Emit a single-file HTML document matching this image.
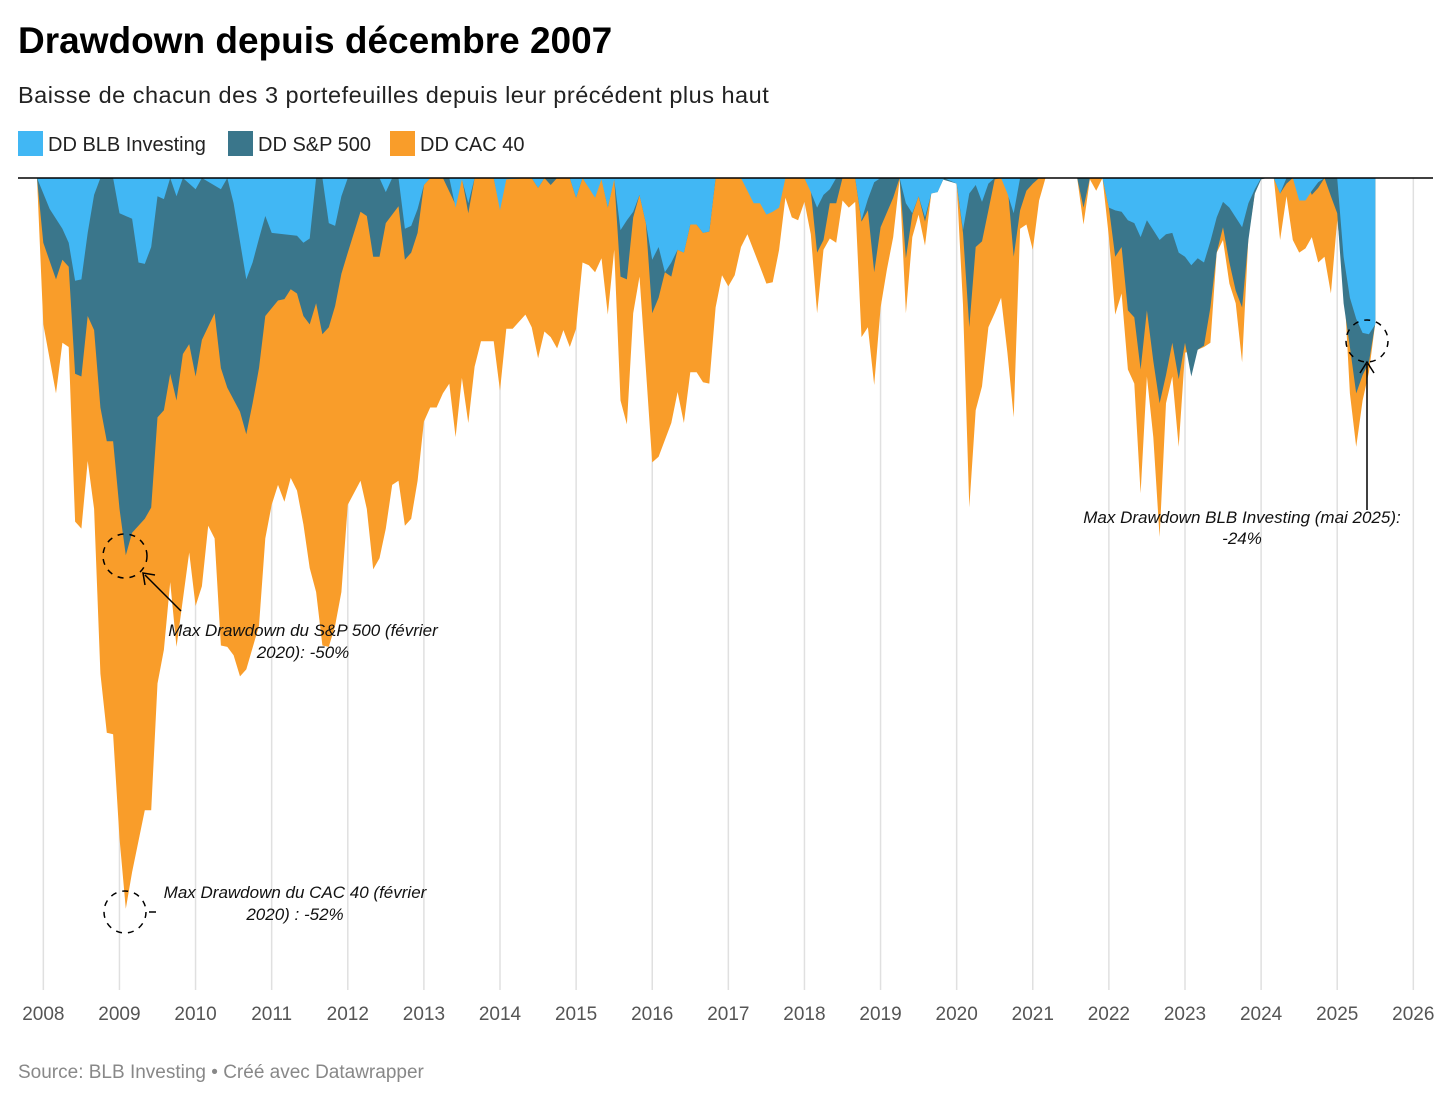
<!DOCTYPE html>
<html><head><meta charset="utf-8">
<style>
body{margin:0;background:#fff;font-family:"Liberation Sans",sans-serif;}
#wrap{position:relative;width:1456px;height:1101px;overflow:hidden;}
</style></head>
<body>
<div id="wrap">
<svg id="chart" width="1456" height="1101">
<text x="18" y="53" font-size="37" font-weight="bold" fill="#000">Drawdown depuis décembre 2007</text>
<text x="18" y="103" font-size="23.5" letter-spacing="0.5" fill="#222">Baisse de chacun des 3 portefeuilles depuis leur précédent plus haut</text>
<g>
<rect x="18" y="131" width="25" height="25" fill="#41b7f4"/>
<text x="48" y="151" font-size="20" fill="#222">DD BLB Investing</text>
<rect x="228" y="131" width="25" height="25" fill="#3a768b"/>
<text x="258" y="151" font-size="20" fill="#222">DD S&amp;P 500</text>
<rect x="390" y="131" width="25" height="25" fill="#f99d2a"/>
<text x="420" y="151" font-size="20" fill="#222">DD CAC 40</text>
</g>
<g id="grid"></g>
<g id="areas"></g>
<line x1="18" y1="178" x2="1433" y2="178" stroke="#000" stroke-width="1.5"/>
<g id="xaxis"></g>
<g id="annot" font-size="17" font-style="italic" fill="#111" text-anchor="middle">
<circle cx="125" cy="556" r="22" fill="none" stroke="#000" stroke-width="1.5" stroke-dasharray="6,6"/>
<line x1="181" y1="611" x2="145" y2="575" stroke="#000" stroke-width="1.5"/>
<polyline points="145,585 143,573 155,575" fill="none" stroke="#000" stroke-width="1.5"/>
<text x="303" y="636">Max Drawdown du S&amp;P 500 (février</text>
<text x="303" y="658">2020): -50%</text>
<circle cx="125" cy="912" r="21" fill="none" stroke="#000" stroke-width="1.5" stroke-dasharray="6,6"/>
<line x1="149" y1="912" x2="156" y2="912" stroke="#000" stroke-width="1.5"/>
<text x="295" y="898">Max Drawdown du CAC 40 (février</text>
<text x="295" y="920">2020) : -52%</text>
<circle cx="1367" cy="341" r="21" fill="none" stroke="#000" stroke-width="1.5" stroke-dasharray="6,6"/>
<line x1="1367" y1="510" x2="1367" y2="364" stroke="#000" stroke-width="1.5"/>
<polyline points="1360,373 1367,362 1374,373" fill="none" stroke="#000" stroke-width="1.5"/>
<text x="1242" y="523">Max Drawdown BLB Investing (mai 2025):</text>
<text x="1242" y="544">-24%</text>
</g>
<text x="18" y="1078" font-size="19" fill="#888">Source: BLB Investing • Créé avec Datawrapper</text>
</svg>
</div>
<script>
// months since Dec 2007, drawdown in %
const yearTicks = [2008,2009,2010,2011,2012,2013,2014,2015,2016,2017,2018,2019,2020,2021,2022,2023,2024,2025,2026];
const cacMonths = [0,1,3,4,5,6,7,8,9,10,11,12,13,14,15,17,18,19,20,21,22,24,25,26,27,28,29,30,31,32,33,35,36,37,38,39,40,41,42,43,44,45,46,47,48,49,51,52,53,54,55,56,57,58,59,60,61,62,63,64,65,66,67,68,69,70,72,73,74,75,77,78,79,80,81,82,83,84,85,86,87,88,89,90,91,92,93,94,95,96,97,98,100,101,102,103,104,105,106,107,108,109,110,111,112,114,115,116,117,118,119,120,121,122,123,124,125,126,127,128,129,130,131,132,133,134,135,136,137,138,139,140,141,142,143,144,145,146,147,148,149,150,151,152,153,154,155,156,157,158,159,164,165,166,167,168,169,170,171,172,173,174,175,176,177,178,179,180,181,183,184,185,186,187,188,189,190,191,192,193,195,196,197,198,199,200,201,202,203,204,205,206,207,208,209,210,211];
const cacValues = [0,-10.4,-15.3,-11.7,-12.0,-24.4,-24.9,-20.1,-23.5,-35.2,-39.4,-39.5,-46.9,-51.9,-49.3,-44.9,-44.9,-35.9,-33.5,-28.7,-33.3,-26.6,-30.4,-29.0,-24.7,-25.6,-33.2,-33.3,-33.9,-35.4,-34.9,-31.8,-25.6,-23.2,-21.8,-23.0,-21.3,-22.2,-24.6,-27.7,-29.4,-33.2,-33.3,-31.8,-29.4,-23.2,-21.5,-23.5,-27.8,-27.0,-24.9,-21.8,-21.5,-24.7,-24.2,-21.5,-17.3,-16.3,-16.3,-15.3,-14.6,-18.4,-14.2,-17.4,-13.4,-11.6,-11.6,-15.1,-10.7,-10.7,-9.7,-10.6,-12.8,-10.9,-11.3,-12.1,-10.8,-12.0,-10.7,-6.0,-6.2,-6.7,-5.7,-9.7,-5.1,-15.8,-17.5,-9.6,-7.0,-13.6,-20.2,-19.8,-17.4,-15.2,-17.4,-13.8,-13.8,-14.5,-14.6,-9.2,-6.9,-7.7,-6.9,-4.9,-4.0,-6.3,-7.5,-7.4,-5.1,-1.4,-2.8,-3.0,-1.7,-4.0,-9.6,-5.1,-4.3,-4.6,-1.6,-2.1,-1.7,-11.3,-10.6,-14.7,-9.2,-6.5,-4.2,-0.1,-9.6,-4.2,-2.6,-4.8,-1.1,-1.0,0,0,-0.4,-9.0,-23.4,-16.5,-14.8,-10.6,-9.6,-8.5,-12.4,-17.0,-3.6,-3.3,-5.1,-1.6,0,0,-3.3,-0.1,-0.9,0,-4.2,-9.7,-8.2,-13.6,-14.6,-22.4,-14.1,-18.4,-25.5,-16.0,-14.1,-19.1,-12.4,-12.2,-12.0,-11.7,-5.3,-4.4,-7.5,-8.9,-13.1,-4.2,-1.1,0,0,-4.4,-1.3,-4.4,-5.3,-5.0,-4.2,-6.0,-5.6,-8.2,-3.0,-7.0,-15.3,-19.1,-15.8,-13.8,-10.3];
const spMonths = [0,1,3,4,5,6,7,8,9,10,11,12,13,14,15,17,18,19,20,21,22,23,24,25,26,28,29,30,32,33,34,35,36,38,39,40,41,42,43,44,45,46,47,48,49,51,52,53,54,55,57,58,59,60,61,62,64,66,67,68,69,72,73,74,78,79,80,81,82,84,85,86,88,89,90,91,92,93,94,95,96,97,98,99,100,101,102,103,104,105,106,107,121,122,123,124,125,126,127,129,130,131,132,133,135,136,137,138,139,140,141,142,145,146,147,148,149,150,151,152,153,154,155,156,157,158,164,165,166,168,169,170,171,172,173,174,175,176,177,178,179,180,181,182,183,184,185,186,187,188,189,190,191,192,193,194,195,196,197,198,200,201,202,203,204,205,206,207,208,209,210,211];
const spValues = [0,-4.6,-7.2,-5.8,-6.3,-13.9,-14.1,-9.8,-10.8,-16.3,-18.7,-18.7,-23.5,-26.8,-25.2,-24.2,-23.4,-17.0,-16.5,-13.9,-15.8,-12.5,-11.8,-14.1,-11.5,-9.6,-13.5,-14.9,-16.6,-18.2,-16.0,-13.5,-9.8,-8.7,-8.6,-7.9,-8.2,-9.8,-10.4,-8.9,-11.1,-10.6,-9.1,-6.8,-5.3,-2.4,-2.7,-5.6,-5.6,-3.2,-2.0,-5.8,-5.3,-3.9,-0.5,0,0,-1.9,0,-2.5,0,0,-2.1,0,0,-0.7,0,-0.5,0,0,-1.4,0,-1.3,0,-2.1,0,-7.0,-7.2,-2.8,-1.2,-3.2,-9.6,-8.5,-6.7,-7.0,-5.1,-5.3,-3.3,-3.3,-3.9,-3.8,0,0,-0.9,-5.3,-4.4,-1.8,-1.8,0,0,-3.1,-2.3,-6.7,-3.5,-1.4,0,-5.7,-2.6,-1.3,-3.1,-1.1,0,-0.4,-3.9,-10.6,-4.9,-4.5,-2.3,-0.1,0,-0.4,-5.6,-2.3,-0.9,-0.4,0,0,-2.1,0,0,-2.1,-5.6,-4.9,-9.4,-9.9,-13.6,-9.4,-13.0,-16.0,-14.0,-11.7,-14.3,-11.7,-14.1,-12.2,-11.9,-9.2,-5.3,-3.5,-6.0,-8.0,-9.2,-4.4,-1.1,-0.1,0,0,-1.1,-0.4,0,0,-1.2,-0.7,0,-1.3,-2.5,-8.9,-12.0,-15.3,-14.0,-13.1,-10.3];
const blbMonths = [0,2,4,5,6,7,8,9,10,12,13,15,16,17,18,19,20,21,22,23,25,26,29,30,31,33,34,35,36,37,41,42,43,44,45,46,47,48,49,54,55,56,57,58,59,60,61,62,65,66,67,68,69,72,73,74,78,79,80,84,85,86,88,89,90,91,92,93,94,95,96,97,98,99,100,101,102,103,104,105,106,107,111,113,114,115,116,117,118,121,122,123,124,125,126,129,130,131,132,133,136,137,138,139,140,141,142,143,145,146,147,148,149,150,151,152,153,154,155,168,169,170,171,172,173,174,175,176,177,178,179,180,181,182,183,184,185,186,187,188,189,190,191,192,193,195,196,197,198,199,200,201,202,203,205,206,207,208,209,210,211];
const blbValues = [0,-2.2,-3.6,-4.6,-7.3,-7.2,-3.9,-1.2,0,0,-2.5,-2.9,-6.0,-6.1,-4.9,-1.3,-1.5,0,-1.3,0,-0.8,0,-0.8,0,-1.8,-7.2,-6.0,-4.3,-2.7,-3.9,-4.1,-4.6,-4.3,0,0,-3.2,-3.4,-1.3,0,0,-1.0,0,0,-3.6,-3.4,-2.2,-0.5,0,0,-2.1,-0.1,-1.8,0,0,-2.3,-0.1,0,-0.7,0,0,-1.4,0,-1.4,-0.1,-2.1,-0.1,-3.7,-3.0,-2.4,-1.2,-3.2,-5.8,-4.9,-6.7,-6.0,-5.1,-5.3,-3.3,-3.3,-3.9,-3.8,0,0,-1.8,-1.8,-2.6,-2.4,-2.1,0,0,-1.0,-2.1,-1.2,-0.8,0,0,-3.0,-1.5,-0.3,0,0,-1.8,-2.5,-1.3,-2.8,-1.1,-1.0,0,-0.4,-3.7,-1.1,-0.5,-1.7,-0.4,0,0,-1.1,-2.5,0,0,-2.1,-2.3,-2.4,-3.0,-3.2,-4.2,-3.0,-3.7,-4.4,-4.0,-3.9,-5.3,-5.6,-6.2,-5.7,-6.0,-4.5,-2.8,-1.7,-2.1,-2.8,-3.5,-1.8,-0.8,0,0,-1.1,0,0,-1.6,-1.6,-0.9,-0.3,0,0,-5.6,-8.5,-10.0,-11.0,-11.1,-10.4];

const NS = "http://www.w3.org/2000/svg";
const X0 = 37, PX_PER_MONTH = 76.11/12, Y0 = 178, PX_PER_PCT = 14.08;
function xScale(m){ return X0 + m*PX_PER_MONTH; }
function yearX(y){ return xScale((y-2008)*12 + 1); }
function yScale(v){ return Y0 - v*PX_PER_PCT; }

const grid = document.getElementById('grid');
const xaxis = document.getElementById('xaxis');
yearTicks.forEach(y=>{
  const l = document.createElementNS(NS,'line');
  const x = yearX(y);
  l.setAttribute('x1',x);l.setAttribute('x2',x);l.setAttribute('y1',178);l.setAttribute('y2',990);
  l.setAttribute('stroke','#e0e0e0');l.setAttribute('stroke-width','1.5');
  
  
  grid.appendChild(l);
  const t = document.createElementNS(NS,'text');
  t.setAttribute('x',x);t.setAttribute('y',1020);t.setAttribute('text-anchor','middle');
  t.setAttribute('font-size','19');t.setAttribute('fill','#555');
  t.textContent = y;
  
  
  xaxis.appendChild(t);
});

const areas = document.getElementById('areas');
function area(months, values, color, name){
  let d = 'M'+xScale(months[0])+','+Y0;
  months.forEach((m,i)=>{ d += ' L'+xScale(m).toFixed(1)+','+yScale(values[i]).toFixed(1); });
  d += ' L'+xScale(months[months.length-1]).toFixed(1)+','+Y0+' Z';
  const p = document.createElementNS(NS,'path');
  p.setAttribute('d',d); p.setAttribute('fill',color);
  
  
  areas.appendChild(p);
}
area(cacMonths, cacValues, '#f99d2a', 'area-cac40');
area(spMonths, spValues, '#3a768b', 'area-sp500');
area(blbMonths, blbValues, '#41b7f4', 'area-blb-investing');
</script>
</body></html>
